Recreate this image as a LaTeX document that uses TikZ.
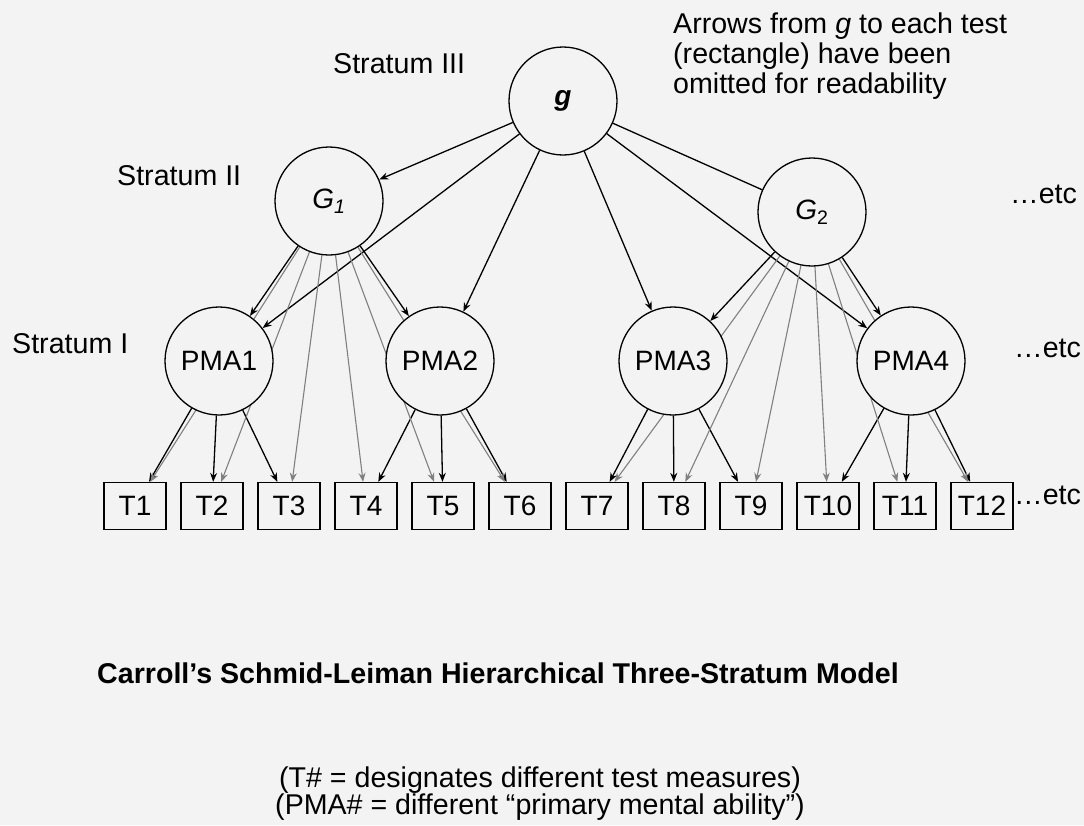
\documentclass[tikz,border=0pt]{standalone}
\usepackage{fontspec}
\setmainfont{Liberation Sans}
\usetikzlibrary{arrows.meta, backgrounds}

\definecolor{paper}{HTML}{F3F3F3}
\definecolor{loadgray}{HTML}{808080}

\begin{document}
\begin{tikzpicture}[x=1pt, y=-1pt, font=\fontsize{28.6}{30}\selectfont]
\useasboundingbox (0,0) rectangle (1084,825);

\begin{scope}[on background layer]
    \fill[paper] (0,0) rectangle (1084,825);
\end{scope}

% factors
\begin{scope}[every node/.style={circle,draw,line width=1.3pt,fill=paper,minimum size=108pt,inner sep=0pt,font=\fontsize{28}{30}\selectfont}]
    \node (g) at (563, 101) {\textbf{\textit{g}}};

    \node (G1) at (329, 201) {\textit{G\textsubscript{1}}};
    \node (G2) at (812, 212) {\textit{G}\textsubscript{2}};

    \node (PMA1) at (219, 361) {PMA1};
    \node (PMA2) at (440, 361) {PMA2};
    \node (PMA3) at (673, 361) {PMA3};
    \node (PMA4) at (911, 361) {PMA4};
\end{scope}

% tests
\begin{scope}[every node/.style={rectangle,draw,line width=1.3pt,fill=paper,minimum width=62pt,minimum height=47pt,inner sep=0pt,font=\fontsize{28}{30}\selectfont}]
    \node (T1) at (135, 506) {T1};
    \node (T2) at (212, 506) {T2};
    \node (T3) at (289, 506) {T3};
    \node (T4) at (366, 506) {T4};
    \node (T5) at (443, 506) {T5};
    \node (T6) at (520, 506) {T6};
    \node (T7) at (597, 506) {T7};
    \node (T8) at (674, 506) {T8};
    \node (T9) at (751, 506) {T9};
    \node (T10) at (828, 506) {T10};
    \node (T11) at (905, 506) {T11};
    \node (T12) at (982, 506) {T12};
\end{scope}

% labels
\begin{scope}[every node/.style={inner sep=0pt,anchor=base west}]
    \node (stratum3) at (333, 73) {Stratum III};
    \node (stratum2) at (117, 185) {Stratum II};
    \node (stratum1) at (12, 353) {Stratum I};

    \node (etc2) at (1010, 203) {…etc};
    \node (etc1) at (1014, 357) {…etc};
    \node (etcT) at (1014, 504) {…etc};

    \node (omitted) at (673, 33) {Arrows from \textit{g} to each test};
    \node (omitted2) at (673, 63) {(rectangle) have been};
    \node (omitted3) at (673, 93) {omitted for readability};
\end{scope}

\begin{scope}[every node/.style={inner sep=0pt,anchor=base}]
    \node (title) at (498, 683) {\textbf{Carroll’s Schmid-Leiman Hierarchical Three-Stratum Model}};
    \node (legendT) at (540, 787) {(T\# = designates different test measures)};
    \node (legendP) at (540, 814) {(PMA\# = different “primary mental ability”)};
\end{scope}

% loadings
\begin{scope}[on background layer, >={Stealth[length=9pt,width=7pt]},
              every edge/.style={draw=black,line width=1.3pt}]
    \path [->] (g) edge (G1);
    \path [-]  (g) edge (G2);
    \path [->] (g) edge (PMA1);
    \path [->] (g) edge (PMA2);
    \path [->] (g) edge (PMA3);
    \path [->] (g) edge (PMA4);

    \path [->] (G1) edge (PMA1);
    \path [->] (G1) edge (PMA2);
    \path [->] (G2) edge (PMA3);
    \path [->] (G2) edge (PMA4);

    \path [->] (PMA1) edge (T1);
    \path [->] (PMA1) edge (T2);
    \path [->] (PMA1) edge (T3);
    \path [->] (PMA2) edge (T4);
    \path [->] (PMA2) edge (T5);
    \path [->] (PMA2) edge (T6);
    \path [->] (PMA3) edge (T7);
    \path [->] (PMA3) edge (T8);
    \path [->] (PMA3) edge (T9);
    \path [->] (PMA4) edge (T10);
    \path [->] (PMA4) edge (T11);
    \path [->] (PMA4) edge (T12);
\end{scope}

\begin{scope}[on background layer, >={Stealth[length=9pt,width=7pt]},
              every edge/.style={draw=loadgray,line width=1.1pt}]
    \path [->] (G1) edge (T1);
    \path [->] (G1) edge (T2);
    \path [->] (G1) edge (T3);
    \path [->] (G1) edge (T4);
    \path [->] (G1) edge (T5);
    \path [->] (G1) edge (T6);

    \path [->] (G2) edge (T7);
    \path [->] (G2) edge (T8);
    \path [->] (G2) edge (T9);
    \path [->] (G2) edge (T10);
    \path [->] (G2) edge (T11);
    \path [->] (G2) edge (T12);
\end{scope}
\end{tikzpicture}
\end{document}
